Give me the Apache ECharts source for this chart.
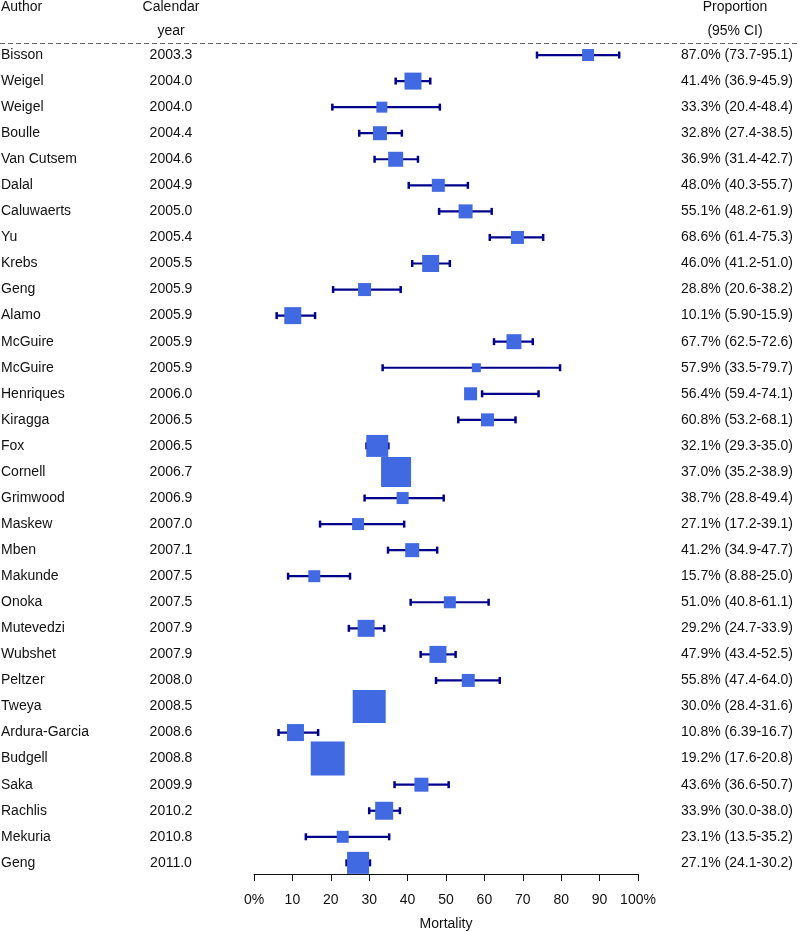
<!DOCTYPE html>
<html>
<head>
<meta charset="utf-8">
<script src="https://cdn.jsdelivr.net/npm/echarts@6/dist/echarts.min.js"></script>
<style>html,body{margin:0;padding:0;background:#fff}#chart{width:800px;height:932px}</style>
</head>
<body>
<div id="chart"></div>
<script>
const authors = ["Bisson","Weigel","Weigel","Boulle","Van Cutsem","Dalal","Caluwaerts","Yu","Krebs","Geng","Alamo","McGuire","McGuire","Henriques","Kiragga","Fox","Cornell","Grimwood","Maskew","Mben","Makunde","Onoka","Mutevedzi","Wubshet","Peltzer","Tweya","Ardura-Garcia","Budgell","Saka","Rachlis","Mekuria","Geng"];
const years = [2003.3,2004.0,2004.0,2004.4,2004.6,2004.9,2005.0,2005.4,2005.5,2005.9,2005.9,2005.9,2005.9,2006.0,2006.5,2006.5,2006.7,2006.9,2007.0,2007.1,2007.5,2007.5,2007.9,2007.9,2008.0,2008.5,2008.6,2008.8,2009.9,2010.2,2010.8,2011.0];
const estimate = [87.0,41.4,33.3,32.8,36.9,48.0,55.1,68.6,46.0,28.8,10.1,67.7,57.9,56.4,60.8,32.1,37.0,38.7,27.1,41.2,15.7,51.0,29.2,47.9,55.8,30.0,10.8,19.2,43.6,33.9,23.1,27.1];
const lower = [73.7,36.9,20.4,27.4,31.4,40.3,48.2,61.4,41.2,20.6,5.90,62.5,33.5,59.4,53.2,29.3,35.2,28.8,17.2,34.9,8.88,40.8,24.7,43.4,47.4,28.4,6.39,17.6,36.6,30.0,13.5,24.1];
const upper = [95.1,45.9,48.4,38.5,42.7,55.7,61.9,75.3,51.0,38.2,15.9,72.6,79.7,74.1,68.1,35.0,38.9,49.4,39.1,47.7,25.0,61.1,33.9,52.5,64.0,31.6,16.7,20.8,50.7,38.0,35.2,30.2];
// relative study weight (drawn as box side)
const weight = [12,17,11,14,15,13,14,13,17,13,17,15,9,13,13,22,30,12,12,14,12,12,17,17,13,33,17,34,14,18,12,22];
const xTicks = [0,10,20,30,40,50,60,70,80,90,100];

// row position: study order from the top (0 = first row), plotted downwards
const rows = authors.map((a, i) => [estimate[i], -i, lower[i], upper[i], weight[i]]);
const FONT = '"Liberation Sans", Arial, Helvetica, sans-serif';
const TXT = '#111';
const BOX = '#4169E1';
const LINE = '#00008B';

const chart = echarts.init(document.getElementById('chart'), null, {renderer: 'canvas'});

function textSeries(xPix, align, fmt) {
  return {
    type: 'custom',
    clip: false,
    silent: true,
    data: rows,
    renderItem: function (params, api) {
      const y = api.coord([0, api.value(1)])[1];
      return {
        type: 'text',
        style: {x: xPix, y: y, text: fmt(params.dataIndex), font: '14px ' + FONT, fill: TXT, align: align, verticalAlign: 'middle'}
      };
    }
  };
}

chart.setOption({
  animation: false,
  backgroundColor: '#fff',
  grid: {left: 254, width: 384, top: 42, height: 832, containLabel: false, outerBoundsMode: 'none'},
  xAxis: {
    type: 'value', min: 0, max: 100, interval: 10, position: 'bottom',
    axisLine: {show: true, onZero: false, lineStyle: {color: '#111', width: 1}},
    axisTick: {show: true, inside: false, length: 7, lineStyle: {color: '#111'}},
    splitLine: {show: false},
    axisLabel: {
      margin: 19, fontSize: 14, fontFamily: FONT, color: TXT,
      formatter: v => (v === 0 || v === 100) ? v + '%' : String(v),
      customValues: xTicks
    },
    name: 'Mortality', nameLocation: 'middle', nameGap: 43,
    nameTextStyle: {fontSize: 14, fontFamily: FONT, color: TXT}
  },
  yAxis: {type: 'value', min: -(874 - 55) / 26.06, max: 0.5, show: false},
  graphic: [
    {type: 'text', left: 1, top: 0, style: {text: 'Author', font: '14px ' + FONT, fill: TXT}},
    {type: 'text', x: 171, y: 7, style: {text: 'Calendar', font: '14px ' + FONT, fill: TXT, align: 'center', verticalAlign: 'middle'}},
    {type: 'text', x: 171, y: 31, style: {text: 'year', font: '14px ' + FONT, fill: TXT, align: 'center', verticalAlign: 'middle'}},
    {type: 'text', x: 735, y: 7, style: {text: 'Proportion', font: '14px ' + FONT, fill: TXT, align: 'center', verticalAlign: 'middle'}},
    {type: 'text', x: 735, y: 31, style: {text: '(95% CI)', font: '14px ' + FONT, fill: TXT, align: 'center', verticalAlign: 'middle'}},
    {type: 'line', shape: {x1: 0, y1: 43.5, x2: 800, y2: 43.5}, style: {stroke: '#666', lineWidth: 1, lineDash: [5, 3]}}
  ],
  series: [
    {
      type: 'custom',
      clip: false,
      data: rows,
      renderItem: function (params, api) {
        const r = api.value(1);
        const c = api.coord([api.value(0), r]);
        const l = api.coord([api.value(2), r]);
        const u = api.coord([api.value(3), r]);
        const s = api.value(4);
        const capH = 3.5;
        return {
          type: 'group',
          children: [
            {type: 'line', shape: {x1: l[0], y1: c[1], x2: u[0], y2: c[1]}, style: {stroke: LINE, lineWidth: 2.2}},
            {type: 'line', shape: {x1: l[0], y1: c[1] - capH, x2: l[0], y2: c[1] + capH}, style: {stroke: LINE, lineWidth: 2.5}},
            {type: 'line', shape: {x1: u[0], y1: c[1] - capH, x2: u[0], y2: c[1] + capH}, style: {stroke: LINE, lineWidth: 2.5}},
            {type: 'rect', shape: {x: c[0] - s / 2, y: c[1] - s / 2, width: s, height: s}, style: {fill: BOX}}
          ]
        };
      }
    },
    textSeries(1, 'left', i => authors[i]),
    textSeries(171, 'center', i => years[i].toFixed(1)),
    textSeries(793, 'right', i => estimate[i].toFixed(1) + '% (' + lower[i].toPrecision(3) + '-' + upper[i].toPrecision(3) + ')')
  ]
});
</script>
</body>
</html>
